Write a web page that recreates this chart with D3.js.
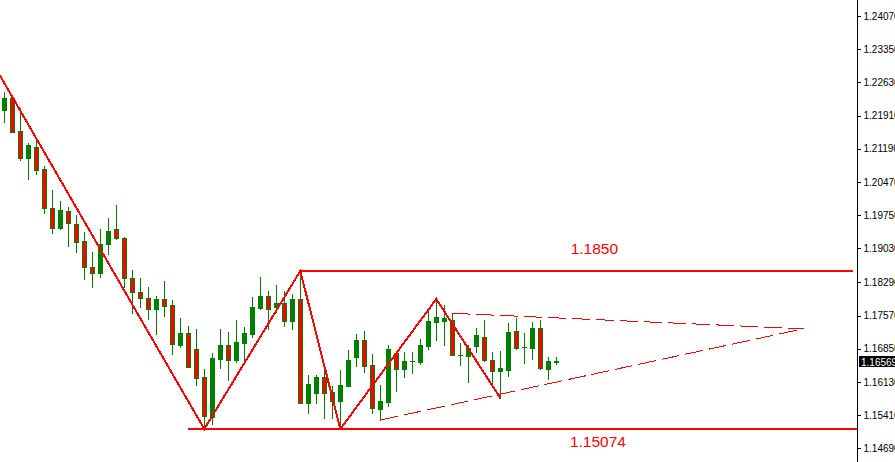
<!DOCTYPE html>
<html><head><meta charset="utf-8">
<script src="https://cdn.jsdelivr.net/npm/d3@7/dist/d3.min.js"></script>
<style>
html,body{margin:0;padding:0;background:#fff;overflow:hidden;}
svg{display:block;}
</style></head>
<body>
<svg id="chart" width="895" height="462"></svg>
<script>
// ---- DATA (EURUSD-like candles) ----
const opens  = [1.22030,1.22297,1.21575,1.20995,1.21221,1.20743,1.19897,1.19463,1.19832,1.19556,
                1.19188,1.18617,1.18487,1.19116,1.19441,1.19246,1.18378,1.18080,1.17944,1.17712,
                1.17922,1.17792,1.16931,1.17185,1.16844,1.16230,1.15375,1.16633,1.16924,1.16612,
                1.16981,1.17176,1.17740,1.17994,1.17762,1.17836,1.17458,1.17929,1.15672,1.15896,
                1.16230,1.15904,1.15722,1.16041,1.16664,1.17039,1.16490,1.15542,1.15700,1.16751,
                1.16403,1.16580,1.16568,1.16920,1.17436,1.17462,1.17467,1.16725,1.16692,1.16916,
                1.17115,1.16605,1.16373,1.16388,1.17241,1.16894,1.16872,1.17293,1.16416,1.16575];
const highs  = [1.22427,1.22356,1.22067,1.21321,1.21379,1.20815,1.20294,1.20056,1.19932,1.19752,
                1.19389,1.18955,1.19448,1.19693,1.19969,1.19281,1.18558,1.18378,1.18189,1.18005,
                1.18320,1.17907,1.17517,1.17343,1.17278,1.16403,1.16764,1.17284,1.17213,1.17473,
                1.17328,1.17979,1.18413,1.18109,1.18233,1.18103,1.18031,1.18537,1.16291,1.16291,
                1.16453,1.16052,1.16388,1.16822,1.17163,1.17241,1.16735,1.16063,1.16931,1.16807,
                1.16785,1.16785,1.17061,1.17690,1.17929,1.17799,1.17619,1.16974,1.16942,1.17293,
                1.17473,1.16785,1.16801,1.17402,1.17510,1.17185,1.17436,1.17473,1.16664,1.16664];
const lows   = [1.21776,1.21553,1.20945,1.20526,1.20635,1.19789,1.19355,1.19455,1.19086,1.18955,
                1.18356,1.18196,1.18413,1.18899,1.19240,1.18196,1.17632,1.17762,1.17488,1.17180,
                1.17560,1.16735,1.16881,1.16455,1.16063,1.15108,1.15210,1.16425,1.16171,1.16568,
                1.16555,1.17111,1.17712,1.17271,1.17653,1.17350,1.17271,1.15665,1.15466,1.15683,
                1.15347,1.15347,1.15108,1.16035,1.16475,1.16351,1.15449,1.15303,1.15614,1.15939,
                1.16230,1.16317,1.16512,1.16837,1.17039,1.16931,1.16715,1.16508,1.16134,1.16785,
                1.16584,1.16026,1.15781,1.16258,1.16837,1.16547,1.16627,1.16420,1.16199,1.16512];
const closes = [1.22297,1.21559,1.20995,1.21271,1.20728,1.19897,1.19463,1.19854,1.19572,1.19172,
                1.18617,1.18487,1.19122,1.19405,1.19246,1.18378,1.18074,1.17944,1.17705,1.17929,
                1.17784,1.16946,1.17185,1.16460,1.16221,1.15397,1.16649,1.16924,1.16599,1.16989,
                1.17185,1.17749,1.17994,1.17705,1.17836,1.17458,1.17929,1.15672,1.16078,1.16236,
                1.15896,1.15722,1.16063,1.16605,1.17039,1.16475,1.15557,1.15715,1.16837,1.16403,
                1.16584,1.16578,1.16924,1.17452,1.17532,1.17510,1.16720,1.16723,1.16866,1.17148,
                1.16605,1.16373,1.16425,1.17206,1.16859,1.16890,1.17293,1.16425,1.16584,1.16569];

const tickValues = [1.24070,1.23350,1.22630,1.21910,1.21190,1.20470,1.19750,1.19030,
                    1.18290,1.17570,1.16850,1.16130,1.15410,1.14690];
const currentPrice = 1.16569;

// zigzag pivots: bar index, price
const zigIdx   = [-0.54, 25, 37, 42, 54, 62];
const zigPrice = [1.22777, 1.15108, 1.18537, 1.15108, 1.17929, 1.15781];

// horizontal levels
const levelPrice = [1.18537, 1.15108];
const levelStart = [37, 23];
const levelEnd   = [106.1, 106.7];
const levelText  = ["1.1850", "1.15074"];

// dashed triangle lines: [startIdx, startPrice, endIdx, endPrice]
const triUpper = [56, 1.17619, 99.9, 1.17284];
const triLower = [47, 1.15303, 99.9, 1.17284];

// ---- DRAW ----
const W = 895, H = 462, axisX = 857;
const GREEN = "#008000", RED = "#ff0000";
const svg = d3.select("#chart");

const x = d3.scaleLinear().domain([0, 69]).range([4.3, 556.3]);
const y = d3.scaleLinear().domain([1.14690, 1.24070]).range([448.3, 16]);

const bars = d3.range(opens.length).map(i => ({i, o: opens[i], h: highs[i], l: lows[i], c: closes[i]}));

const g = svg.append("g").attr("shape-rendering", "crispEdges");

// candles
const cg = g.selectAll("g.c").data(bars).join("g").attr("class", "c");
cg.append("rect")
  .attr("x", d => Math.round(x(d.i)))
  .attr("width", 1)
  .attr("y", d => Math.round(y(d.h)))
  .attr("height", d => Math.max(1, Math.round(y(d.l)) - Math.round(y(d.h)) + 1))
  .attr("fill", GREEN);
cg.append("rect")
  .attr("x", d => Math.round(x(d.i)) - 2)
  .attr("width", 5)
  .attr("y", d => Math.round(y(Math.max(d.o, d.c))))
  .attr("height", d => Math.max(1, Math.round(y(Math.min(d.o, d.c))) - Math.round(y(Math.max(d.o, d.c))) + 1))
  .attr("fill", GREEN);
cg.filter(d => d.c < d.o && (Math.round(y(d.c)) - Math.round(y(d.o))) > 2)
  .append("rect")
  .attr("x", d => Math.round(x(d.i)) - 1)
  .attr("width", 3)
  .attr("y", d => Math.round(y(d.o)) + 1)
  .attr("height", d => Math.round(y(d.c)) - Math.round(y(d.o)) - 1)
  .attr("fill", RED);

// horizontal levels
levelPrice.forEach((p, k) => {
  g.append("line")
    .attr("x1", x(levelStart[k])).attr("x2", x(levelEnd[k]))
    .attr("y1", Math.round(y(p))).attr("y2", Math.round(y(p)))
    .attr("stroke", RED).attr("stroke-width", 2);
});

// zigzag
const zz = zigIdx.map((d, k) => [x(d), y(zigPrice[k])]);
g.append("path")
  .attr("d", d3.line()(zz))
  .attr("fill", "none").attr("stroke", RED).attr("stroke-width", 2);

// dashed triangle
[triUpper, triLower].forEach(t => {
  g.append("line")
    .attr("x1", x(t[0])).attr("y1", y(t[1]))
    .attr("x2", x(t[2])).attr("y2", y(t[3]))
    .attr("stroke", RED).attr("stroke-width", 1)
    .attr("stroke-dasharray", "18,6");
});

// level labels
svg.append("text")
  .attr("x", x(70.8)).attr("y", Math.round(y(levelPrice[0])) - 17)
  .attr("font-family", "Liberation Sans, Arial, sans-serif")
  .attr("font-size", 15.5).attr("fill", RED)
  .text(levelText[0]);
svg.append("text")
  .attr("x", x(70.7)).attr("y", Math.round(y(levelPrice[1])) + 18)
  .attr("font-family", "Liberation Sans, Arial, sans-serif")
  .attr("font-size", 15.5).attr("fill", RED)
  .text(levelText[1]);

// right price axis
const axis = d3.axisRight(y).tickValues(tickValues)
  .tickFormat(d3.format(".5f")).tickSize(3).tickSizeOuter(0).tickPadding(3);
const ag = svg.append("g").attr("transform", `translate(${axisX + 0.5},0)`)
  .attr("shape-rendering", "crispEdges").call(axis);
ag.select(".domain").remove();
ag.selectAll(".tick line").attr("stroke", "#000");
ag.selectAll(".tick text").attr("font-family", "Liberation Sans, Arial, sans-serif")
  .attr("font-size", 10).attr("fill", "#000");
svg.append("line").attr("shape-rendering", "crispEdges")
  .attr("x1", axisX + 0.5).attr("x2", axisX + 0.5).attr("y1", 0).attr("y2", H)
  .attr("stroke", "#000").attr("stroke-width", 1);

// current price box
const cy = y(currentPrice);
svg.append("rect").attr("shape-rendering", "crispEdges")
  .attr("x", axisX + 2).attr("y", Math.round(cy) - 6).attr("width", W - axisX - 2).attr("height", 11)
  .attr("fill", "#000");
svg.append("text")
  .attr("x", axisX + 4).attr("y", Math.round(cy) + 3.5)
  .attr("font-family", "Liberation Sans, Arial, sans-serif")
  .attr("font-size", 10).attr("fill", "#fff")
  .text(d3.format(".5f")(currentPrice));
</script>
</body></html>
